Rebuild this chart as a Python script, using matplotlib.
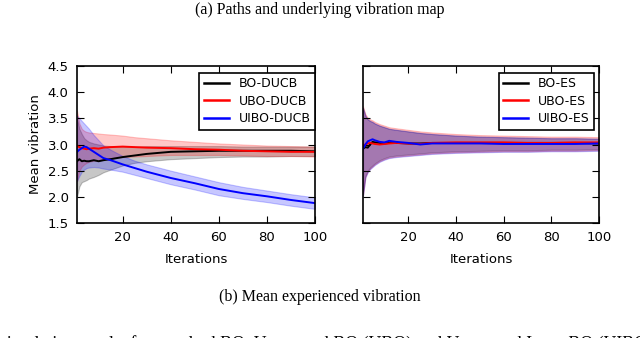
import matplotlib.pyplot as plt
import numpy as np

it = [1, 2, 3, 4, 5, 6, 8, 10, 12, 15, 20, 25, 30, 40, 50, 60, 70, 80, 90, 100]

# left panel (DUCB)
bo_ducb = [2.68, 2.72, 2.68, 2.69, 2.68, 2.68, 2.70, 2.68, 2.70, 2.72, 2.76, 2.79, 2.82, 2.86, 2.87, 2.88, 2.88, 2.88, 2.88, 2.87]
bo_ducb_lo = [2.0, 2.2, 2.28, 2.3, 2.32, 2.35, 2.38, 2.42, 2.47, 2.52, 2.6, 2.65, 2.68, 2.72, 2.74, 2.76, 2.77, 2.77, 2.78, 2.78]
bo_ducb_hi = [3.5, 3.3, 3.2, 3.12, 3.08, 3.05, 3.02, 3.0, 2.98, 2.97, 2.96, 2.96, 2.97, 2.97, 2.97, 2.97, 2.96, 2.96, 2.96, 2.96]

ubo_ducb = [2.97, 2.95, 2.93, 2.92, 2.91, 2.92, 2.93, 2.92, 2.94, 2.95, 2.96, 2.95, 2.94, 2.93, 2.91, 2.90, 2.88, 2.87, 2.86, 2.86]
ubo_ducb_lo = [2.3, 2.5, 2.58, 2.62, 2.65, 2.67, 2.69, 2.70, 2.72, 2.74, 2.76, 2.77, 2.78, 2.80, 2.80, 2.80, 2.79, 2.78, 2.78, 2.77]
ubo_ducb_hi = [3.65, 3.4, 3.3, 3.26, 3.24, 3.23, 3.22, 3.21, 3.20, 3.19, 3.17, 3.14, 3.12, 3.08, 3.05, 3.02, 3.00, 2.98, 2.97, 2.96]

uibo_ducb = [2.86, 2.90, 2.93, 2.96, 2.95, 2.92, 2.86, 2.80, 2.74, 2.70, 2.62, 2.55, 2.48, 2.36, 2.26, 2.15, 2.07, 2.01, 1.94, 1.88]
uibo_ducb_lo = [2.3, 2.4, 2.48, 2.52, 2.55, 2.56, 2.57, 2.56, 2.54, 2.52, 2.48, 2.42, 2.36, 2.24, 2.14, 2.03, 1.96, 1.90, 1.83, 1.77]
uibo_ducb_hi = [3.55, 3.5, 3.45, 3.4, 3.35, 3.30, 3.18, 3.08, 2.98, 2.90, 2.78, 2.69, 2.62, 2.50, 2.39, 2.28, 2.19, 2.12, 2.05, 1.99]

# right panel (ES)
bo_es = [2.92, 2.95, 2.94, 3.00, 3.05, 3.04, 3.03, 3.02, 3.03, 3.03, 3.02, 3.02, 3.03, 3.03, 3.03, 3.03, 3.03, 3.03, 3.03, 3.02]
ubo_es = [2.98, 3.0, 3.02, 3.03, 3.02, 3.01, 3.0, 3.01, 3.02, 3.03, 3.02, 3.01, 3.03, 3.04, 3.04, 3.04, 3.03, 3.03, 3.04, 3.04]
uibo_es = [2.92, 3.0, 3.06, 3.08, 3.10, 3.08, 3.05, 3.04, 3.07, 3.05, 3.03, 3.00, 3.02, 3.02, 3.02, 3.01, 3.01, 3.01, 3.01, 3.02]
es_lo = [2.05, 2.4, 2.5, 2.56, 2.6, 2.64, 2.70, 2.74, 2.77, 2.79, 2.81, 2.83, 2.85, 2.87, 2.88, 2.89, 2.89, 2.90, 2.90, 2.91]
es_hi = [3.7, 3.55, 3.48, 3.45, 3.43, 3.40, 3.36, 3.33, 3.30, 3.28, 3.25, 3.22, 3.20, 3.17, 3.15, 3.14, 3.13, 3.12, 3.12, 3.11]

fig = plt.figure(figsize=(6.4, 3.38), dpi=100)
ax1 = fig.add_axes([77 / 640, 1 - 223 / 338, 238 / 640, 157 / 338])
ax2 = fig.add_axes([363 / 640, 1 - 223 / 338, 236 / 640, 157 / 338], sharey=ax1)

def band(ax, lo, hi, col):
    ax.fill_between(it, lo, hi, color=col, alpha=0.22, lw=0.8, edgecolor=col)

band(ax1, bo_ducb_lo, bo_ducb_hi, 'black')
band(ax1, ubo_ducb_lo, ubo_ducb_hi, 'red')
band(ax1, uibo_ducb_lo, uibo_ducb_hi, 'blue')
ax1.plot(it, bo_ducb, color='black', lw=1.4, label='BO-DUCB')
ax1.plot(it, ubo_ducb, color='red', lw=1.4, label='UBO-DUCB')
ax1.plot(it, uibo_ducb, color='blue', lw=1.4, label='UIBO-DUCB')

band(ax2, es_lo, es_hi, 'black')
band(ax2, [v - 0.02 for v in es_lo], [v + 0.03 for v in es_hi], 'red')
band(ax2, [v - 0.03 for v in es_lo], es_hi, 'blue')
ax2.plot(it, bo_es, color='black', lw=1.4, label='BO-ES')
ax2.plot(it, ubo_es, color='red', lw=1.4, label='UBO-ES')
ax2.plot(it, uibo_es, color='blue', lw=1.4, label='UIBO-ES')

for ax in (ax1, ax2):
    ax.set_xlim(1, 100)
    ax.set_ylim(1.5, 4.5)
    ax.set_xticks([20, 40, 60, 80, 100])
    ax.set_yticks(np.arange(1.5, 4.51, 0.5))
    ax.tick_params(direction='in', top=True, right=True, length=5, labelsize=9.5, pad=6)
    ax.set_xlabel('Iterations', fontsize=9.5, labelpad=6)
    for s in ax.spines.values():
        s.set_linewidth(1.2)
ax1.set_ylabel('Mean vibration', fontsize=9.5)
ax2.tick_params(labelleft=False)

leg_kw = dict(fontsize=9, fancybox=False, edgecolor='black', framealpha=1,
              handlelength=2.0, borderaxespad=0, labelspacing=0.35, borderpad=0.35)
l1 = ax1.legend(loc='upper right', bbox_to_anchor=(1.0, 0.955), **leg_kw)
l2 = ax2.legend(loc='upper right', bbox_to_anchor=(0.98, 0.955), **leg_kw)
for l in (l1, l2):
    l.get_frame().set_linewidth(1.2)
    for h in l.get_lines():
        h.set_linewidth(1.8)

serif = 'Liberation Serif'
fig.text(0.5, 1 - 10 / 338, '(a) Paths and underlying vibration map', ha='center', va='center',
         family=serif, fontsize=11.5)
fig.text(0.5, 1 - 297 / 338, '(b) Mean experienced vibration', ha='center', va='center',
         family=serif, fontsize=11.5)
fig.text(0.0, 1 - 344 / 338, 'simulation results for standard BO, Unscented BO (UBO) and Unscented Input BO (UIBO)',
         ha='left', va='center', family=serif, fontsize=12.8)

fig.savefig('out.png', dpi=100)
